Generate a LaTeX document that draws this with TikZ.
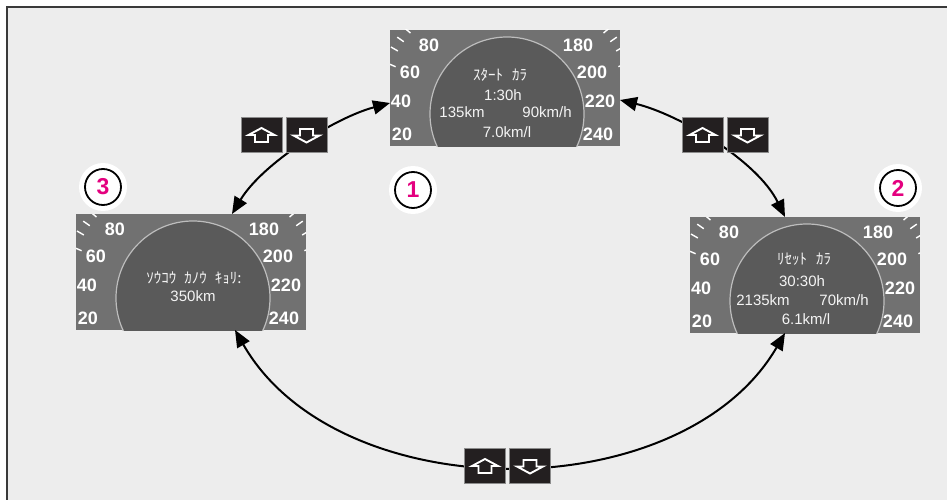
\documentclass[tikz,border=0pt]{standalone}
\usepackage{fontspec}
\setmainfont{Liberation Sans}
\newfontfamily\jpfont{Noto Sans CJK JP}
\usetikzlibrary{arrows.meta,calc}
\definecolor{bgcol}{HTML}{EDEDED}
\definecolor{framecol}{HTML}{3A3A3A}
\definecolor{panelcol}{HTML}{717171}
\definecolor{dialcol}{HTML}{5A5A5A}
\definecolor{rimcol}{HTML}{BDBDBD}
\definecolor{btncol}{HTML}{231F20}
\definecolor{btnedge}{HTML}{8C8C8C}
\definecolor{numcol}{HTML}{E4007F}
\definecolor{txtcol}{HTML}{F4F4F4}
\tikzset{
  panelbox/.style={rectangle, fill=panelcol, minimum width=230pt, minimum height=116pt, inner sep=0pt, outer sep=0pt, anchor=north west},
  scalenum/.style={text=white, font=\bfseries\fontsize{18}{18}\selectfont, inner sep=0pt},
  dialtxt/.style={text=txtcol, font=\fontsize{15}{15}\selectfont, inner sep=0pt},
  kanatxt/.style={text=txtcol, font=\jpfont\fontsize{15}{15}\selectfont, inner sep=0pt},
  tickline/.style={white, line width=1.4pt},
  btn/.style={rectangle, fill=btncol, draw=btnedge, line width=0.5pt, minimum width=41pt, minimum height=35pt, inner sep=0pt},
  icon/.style={white, line width=1.9pt, line join=miter},
  link/.style={black, line width=2pt, {Triangle[length=17pt,width=14pt]}-{Triangle[length=17pt,width=14pt]}},
  disc/.style={circle, fill=white, minimum size=48pt, inner sep=0pt},
  ring/.style={circle, draw=black, line width=1.8pt, minimum size=36pt, inner sep=0pt, text=numcol, font=\bfseries\fontsize{23}{23}\selectfont},
  upicon/.pic={\draw[icon] (0,6.5) -- (13,-0.5) -- (6.5,-0.5) -- (6.5,-7.5) -- (-6.5,-7.5) -- (-6.5,-0.5) -- (-13,-0.5) -- cycle;},
  downicon/.pic={\draw[icon] (0,-8) -- (13,-1) -- (6.5,-1) -- (6.5,5.5) -- (-6.5,5.5) -- (-6.5,-1) -- (-13,-1) -- cycle;}
}
% panel: name, x, y, dial content
\newcommand\makepanel[4]{%
  \node[panelbox] (#1) at (#2,-#3) {};
  \begin{scope}[shift={(#1.north west)}]
    \clip (0,0) rectangle (230,-116);
    \fill[dialcol] (117,-84) circle (77pt);
    \draw[rimcol, line width=1.2pt] (117,-84) circle (77pt);
    \foreach \a in {140,145,150,40,35,30}
      \draw[tickline] ($(117,-84)+(\a:126pt)$) -- ($(117,-84)+(\a:134pt)$);
    \foreach \a in {157,23}
      \draw[tickline] ($(117,-84)+(\a:121pt)$) -- ($(117,-84)+(\a:134pt)$);
    \node[scalenum] (#1s80) at (39,-15) {80};
    \node[scalenum] (#1s60) at (20,-42) {60};
    \node[scalenum] (#1s40) at (11,-71) {40};
    \node[scalenum] (#1s20) at (12,-104) {20};
    \node[scalenum] (#1s180) at (188,-15) {180};
    \node[scalenum] (#1s200) at (202,-42) {200};
    \node[scalenum] (#1s220) at (210,-71) {220};
    \node[scalenum] (#1s240) at (208,-104) {240};
    #4
  \end{scope}}
\begin{document}
\begin{tikzpicture}[x=1pt,y=1pt]
\useasboundingbox (0,0) rectangle (947,-500);
\fill[white] (0,0) rectangle (947,-500);
\fill[bgcol] (7,-7) rectangle (947,-500);
\draw[framecol, line width=2pt] (7,-500) -- (7,-7) -- (947,-7);

\makepanel{p1}{390}{30}{%
  \node[kanatxt] (p1k) at (110,-45) {ｽﾀｰﾄ\hspace{9pt}ｶﾗ};
  \node[dialtxt] (p1t) at (113,-65) {1:30h};
  \node[dialtxt] (p1d) at (72,-82) {135km};
  \node[dialtxt] (p1v) at (157,-82) {90km/h};
  \node[dialtxt] (p1e) at (117,-102) {7.0km/l};
}
\makepanel{p2}{690}{217}{%
  \node[kanatxt] (p2k) at (114,-42) {ﾘｾｯﾄ\hspace{9pt}ｶﾗ};
  \node[dialtxt] (p2t) at (112,-64) {30:30h};
  \node[dialtxt] (p2d) at (73,-83) {2135km};
  \node[dialtxt] (p2v) at (154,-83) {70km/h};
  \node[dialtxt] (p2e) at (116,-102) {6.1km/l};
}
\makepanel{p3}{76}{214}{%
  \node[kanatxt] (p3k) at (118,-64) {ｿｳｺｳ\hspace{8pt}ｶﾉｳ\hspace{8pt}ｷｮﾘ:};
  \node[dialtxt] (p3d) at (117,-82) {350km};
}

\coordinate (a3t) at ($(p3.north west)+(156,0)$);
\coordinate (a1l) at ($(p1.north west)+(0,-73)$);
\coordinate (a1r) at ($(p1.north east)+(0,-70)$);
\coordinate (a2t) at ($(p2.north west)+(95,0)$);
\coordinate (a2b) at ($(p2.south west)+(95,0)$);
\coordinate (a3b) at ($(p3.south west)+(159,0)$);

\draw[link] (a3t) .. controls +(30,50) and +(-56,-15) .. (a1l);
\draw[link] (a1r) .. controls +(58,-14) and +(-28,57) .. (a2t);
\draw[link] (a3b) .. controls +(103,-180) and +(-103,-177) .. (a2b);

\node[btn] (bl1) at (261.5,-134.5) {};
\node[btn] (bl2) at (306.5,-134.5) {};
\node[btn] (br1) at (702.5,-134.5) {};
\node[btn] (br2) at (747.5,-134.5) {};
\node[btn] (bb1) at (485,-465.5) {};
\node[btn] (bb2) at (530,-465.5) {};
\pic at (bl1.center) {upicon};
\pic at (bl2.center) {downicon};
\pic at (br1.center) {upicon};
\pic at (br2.center) {downicon};
\pic at (bb1.center) {upicon};
\pic at (bb2.center) {downicon};

\node[disc] (d1) at (413,-190) {};
\node[ring] (r1) at (d1.center) {1};
\node[disc] (d2) at (898,-188) {};
\node[ring] (r2) at (d2.center) {2};
\node[disc] (d3) at (103,-187) {};
\node[ring] (r3) at (d3.center) {3};
\end{tikzpicture}
\end{document}
